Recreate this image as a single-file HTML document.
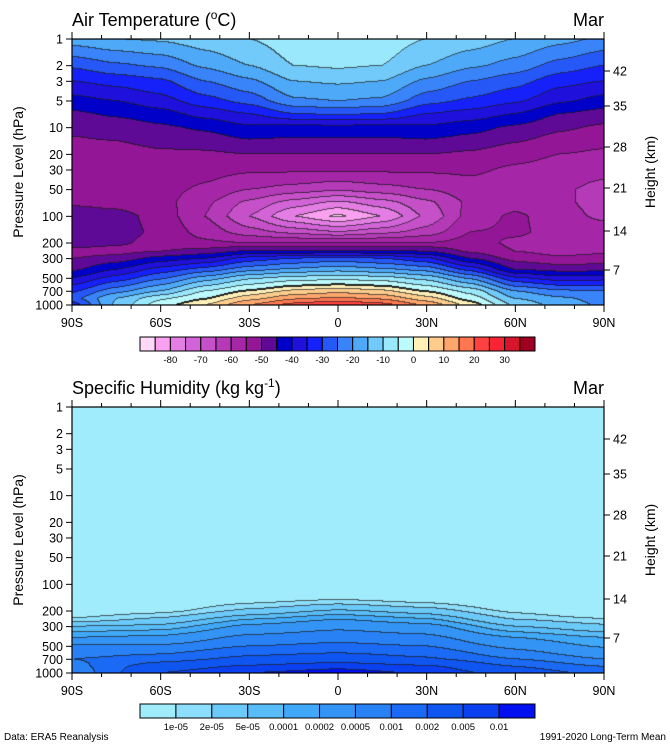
<!DOCTYPE html>
<html><head><meta charset="utf-8">
<style>
body{margin:0;background:#fff;width:670px;height:750px;position:relative;overflow:hidden;font-family:"Liberation Sans",sans-serif;}
canvas{position:absolute;}
svg{position:absolute;left:0;top:0;}
</style></head>
<body>
<canvas id="cT" width="532" height="266" style="left:72px;top:39px"></canvas>
<canvas id="cQ" width="532" height="266" style="left:72px;top:407px"></canvas>
<svg id="ov" width="670" height="750"></svg>
<script>
// ---- data ----
const lats = [-90,-75,-60,-45,-30,-15,0,15,30,45,60,75,90];
const tLevels = [1,2,3,5,7,10,20,30,50,70,100,150,200,250,300,400,500,700,850,1000];
const temp = [
[-17,-29,-35,-42,-46,-49,-52,-52,-52,-51,-47,-47,-47,-52,-50,-46,-40,-31,-27,-33],
[-15,-26,-33,-40,-44,-48,-52,-53,-53,-52,-48,-48,-49,-52,-48,-40,-33,-22,-15,-14],
[-14,-24,-31,-37,-42,-46,-51,-52,-53,-53,-52,-51,-52,-50,-43,-33,-26,-15,-6,-2],
[-12,-19,-25,-32,-38,-44,-51,-53,-56,-59,-60,-57,-54,-48,-40,-28,-18,-5,0,5],
[-10,-15,-21,-28,-35,-41,-50,-54,-60,-66,-70,-63,-55,-44,-33,-22,-11,1,8,15],
[-7,-10,-15,-21,-30,-42,-50,-54,-62,-72,-80,-67,-55,-44,-30,-19,-8,6,14,22],
[-7,-9,-14,-20,-29,-42,-50,-54,-64,-76,-86,-70,-55,-44,-28,-17,-7,8,16,25],
[-7,-10,-15,-21,-30,-42,-50,-54,-62,-72,-80,-67,-55,-44,-30,-19,-8,6,14,22],
[-10,-15,-21,-28,-35,-41,-50,-54,-60,-66,-69,-63,-55,-45,-34,-22,-12,0,7,14],
[-12,-19,-25,-31,-37,-43,-51,-54,-57,-59,-58,-55,-53,-51,-45,-32,-21,-7,-2,3],
[-15,-22,-28,-34,-40,-46,-53,-56,-58,-57,-54,-54,-56,-55,-52,-45,-34,-20,-15,-11],
[-18,-27,-33,-39,-45,-49,-55,-57,-59,-59,-58,-57,-57,-57,-54,-47,-38,-24,-19,-17],
[-21,-30,-35,-42,-47,-51,-56,-58,-62,-62,-61,-58,-57,-56,-53,-47,-37,-25,-22,-21]];
const qLats = [-90,-60,-30,0,30,60,90];
const qLevels = [1,10,100,150,200,250,300,400,500,700,850,1000];
const logQ = [
[-6,-6,-6,-5.6,-5.3,-4.95,-4.3,-3.7,-3.25,-3.0,-3.1,-3.2],
[-6,-6,-6,-5.5,-5.15,-4.6,-4.2,-3.6,-3.25,-2.85,-2.5,-2.3],
[-6,-6,-5.8,-5.2,-4.6,-4.0,-3.6,-3.2,-3.0,-2.6,-2.25,-2.0],
[-6,-6,-5.8,-5.0,-4.25,-3.7,-3.4,-3.1,-2.93,-2.5,-2.1,-1.85],
[-6,-6,-5.8,-5.2,-4.5,-3.95,-3.55,-3.2,-3.0,-2.65,-2.25,-2.05],
[-6,-6,-6,-5.5,-5.1,-4.7,-4.3,-3.7,-3.4,-3.0,-2.7,-2.5],
[-6,-6,-6,-5.8,-5.5,-4.95,-4.6,-4.0,-3.75,-3.3,-3.0,-2.8]];
const tColors = ["#ffd8fa","#f9a0f0","#e47ee4","#d264d8","#c550c8","#b43ab8","#a626a8","#921696","#5f0a96","#0000c8","#2010dc","#1620f8","#2658f8","#3a84fa","#4eaaf8","#72cafa","#9ae8fc","#bcfafc","#fff0b8","#ffcc8c","#ffa66c","#ff7650","#ff4040","#f82434","#d8142c","#a00020"];
const tBounds = [-85,-80,-75,-70,-65,-60,-55,-50,-45,-40,-35,-30,-25,-20,-15,-10,-5,0,5,10,15,20,25,30,35];
const qColors = ["#a0ecfc","#8cdefc","#6ccafa","#58bcf8","#40a8f8","#3494f5","#2882f5","#1a6af5","#0f55f0","#0a40f0","#0010f0"];
const qBounds = [1e-5,2e-5,5e-5,1e-4,2e-4,5e-4,1e-3,2e-3,5e-3,1e-2];
const qTickLabels = ["1e-05","2e-05","5e-05","0.0001","0.0002","0.0005","0.001","0.002","0.005","0.01"];
const pTicks = [1,2,3,5,10,20,30,50,100,200,300,500,700,1000];
const hTicks = [7,14,21,28,35,42];
const hTickY = [270,231,188,147,106,71];
const latTicks = [-90,-60,-30,0,30,60,90];
const latLabels = ["90S","60S","30S","0","30N","60N","90N"];

// ---- axes ----
const X0=72, X1=604, PH=266;
const xScale = lat => X0 + (lat+90)/180*(X1-X0);
const yScale = (p, top) => top + Math.log10(p)/3*PH;

function hex(c){return [parseInt(c.substr(1,2),16),parseInt(c.substr(3,2),16),parseInt(c.substr(5,2),16)];}
function bracket(arr,v){let i=0;while(i<arr.length-2 && v>arr[i+1])i++;return i;}
function field(latArr, levArr, grid, lat, lp){
  const lg = levArr.map(Math.log10);
  const i = bracket(latArr, lat), j = bracket(lg, lp);
  let tx = Math.min(1,Math.max(0,(lat-latArr[i])/(latArr[i+1]-latArr[i])));
  const ty = Math.min(1,Math.max(0,(lp-lg[j])/(lg[j+1]-lg[j])));
  tx = tx*tx*(3-2*tx)*0.5 + tx*0.5;
  const a=grid[i][j], b=grid[i+1][j], c=grid[i][j+1], d=grid[i+1][j+1];
  return (a*(1-tx)+b*tx)*(1-ty)+(c*(1-tx)+d*tx)*ty;
}
function render(id, latArr, levArr, grid, binFn, colors, thickPair){
  const cv=document.getElementById(id), ctx=cv.getContext('2d');
  const W=cv.width,H=cv.height, img=ctx.createImageData(W,H);
  const idx=new Int16Array(W*H);
  for(let y=0;y<H;y++){const lp=(y+0.5)/H*3;
    for(let x=0;x<W;x++){const lat=-90+(x+0.5)/W*180;
      idx[y*W+x]=binFn(field(latArr,levArr,grid,lat,lp));}}
  const rgb=colors.map(hex);
  for(let y=0;y<H;y++)for(let x=0;x<W;x++){
    const k=y*W+x, v=idx[k]; let c=rgb[v].slice();
    let edge=false, thick=false;
    const nb=[x<W-1?idx[k+1]:v, y<H-1?idx[k+W]:v];
    for(const n of nb){ if(n!==v){edge=true; if(thickPair && Math.min(n,v)===thickPair[0]&&Math.max(n,v)===thickPair[1]) thick=true;} }
    if(thickPair && !thick){const nb2=[x>0?idx[k-1]:v,y>0?idx[k-W]:v];
      for(const n of nb2){ if(Math.min(n,v)===thickPair[0]&&Math.max(n,v)===thickPair[1]) thick=true;}}
    if(edge||thick){const f=thick?0.05:0.3; c=c.map(z=>z*f+25*(1-f));}
    img.data[k*4]=c[0];img.data[k*4+1]=c[1];img.data[k*4+2]=c[2];img.data[k*4+3]=255;
  }
  ctx.putImageData(img,0,0);
}
render('cT', lats, tLevels, temp, T=>{let n=0;for(const b of tBounds) if(T>=b)n++;return n;}, tColors, [17,18]);
render('cQ', qLats, qLevels, logQ, v=>{let n=0;for(const b of qBounds) if(v>=Math.log10(b))n++;return n;}, qColors, null);

// ---- overlay ----
const NS="http://www.w3.org/2000/svg", ov=document.getElementById('ov');
function el(tag, attrs, txt){const e=document.createElementNS(NS,tag);for(const k in attrs)e.setAttribute(k,attrs[k]);if(txt!==undefined)e.textContent=txt;ov.appendChild(e);return e;}

function panel(top, title, sup, titleEnd, tag){
  let e=el('rect',{x:X0,y:top,width:X1-X0,height:PH,fill:'none',stroke:'#000','stroke-width':1.2});
  
  
  const t=el('text',{x:72,y:top-13,'font-size':18,fill:'#000'});
  
  
  t.appendChild(document.createTextNode(title));
  const ts=document.createElementNS(NS,'tspan');ts.setAttribute('font-size',12);ts.setAttribute('dy',-7);ts.textContent=sup;t.appendChild(ts);
  const te=document.createElementNS(NS,'tspan');te.setAttribute('dy',7);te.textContent=titleEnd;t.appendChild(te);
  const m=el('text',{x:X1,y:top-13,'font-size':18,'text-anchor':'end',fill:'#000'},'Mar');
  
  
  for(let lat=-90;lat<=90;lat+=10){const x=xScale(lat), big=lat%30===0, L=big?7:4;
    el('line',{x1:x,x2:x,y1:top,y2:top-L,stroke:'#000','stroke-width':1});
    el('line',{x1:x,x2:x,y1:top+PH,y2:top+PH+L,stroke:'#000','stroke-width':1});}
  latTicks.forEach((lat,i)=>{const lb=el('text',{x:xScale(lat),y:top+PH+22,'font-size':12.5,'text-anchor':'middle'},latLabels[i]);
    
    });
  pTicks.forEach(p=>{const y=yScale(p,top);
    el('line',{x1:X0-6,x2:X0,y1:y,y2:y,stroke:'#000'});
    const lb=el('text',{x:X0-9,y:y+4.5,'font-size':12.5,'text-anchor':'end'},String(p));
    
    });
  hTicks.forEach((h,i)=>{const y=hTickY[i]-39+top;
    el('line',{x1:X1,x2:X1+6,y1:y,y2:y,stroke:'#000'});
    const lb=el('text',{x:X1+9,y:y+4.5,'font-size':12.5},String(h));
    
    });
  const yl=el('text',{x:0,y:0,'font-size':14,'text-anchor':'middle',transform:`translate(23,${top+PH/2}) rotate(-90)`},'Pressure Level (hPa)');
  
  
  const yr=el('text',{x:0,y:0,'font-size':14,'text-anchor':'middle',transform:`translate(655,${top+PH/2}) rotate(-90)`},'Height (km)');
  
  
}
panel(39,'Air Temperature (','o','C)','temperature');
panel(407,'Specific Humidity (kg kg','-1',')','humidity');

function colorbar(x0,x1,y,h,colors,labels,tag){
  const w=(x1-x0)/colors.length;
  colors.forEach((c,i)=>{const r=el('rect',{x:x0+i*w,y:y,width:w,height:h,fill:c,stroke:'#000','stroke-width':1});
    
    });
  labels.forEach((l,i)=>{const t=el('text',{x:x0+(i+1)*w,y:y+h+12,'font-size':9.5,'text-anchor':'middle'},l);
    
    });
}
colorbar(140,535,337,14,tColors,tBounds.map(b=>(b%10===0)?String(b):''),'temperature');
colorbar(140,535,704,14,qColors,qTickLabels,'humidity');

const f1=el('text',{x:4,y:740,'font-size':10},'Data: ERA5 Reanalysis');


const f2=el('text',{x:666,y:740,'font-size':10,'text-anchor':'end'},'1991-2020 Long-Term Mean');


</script>
</body></html>
